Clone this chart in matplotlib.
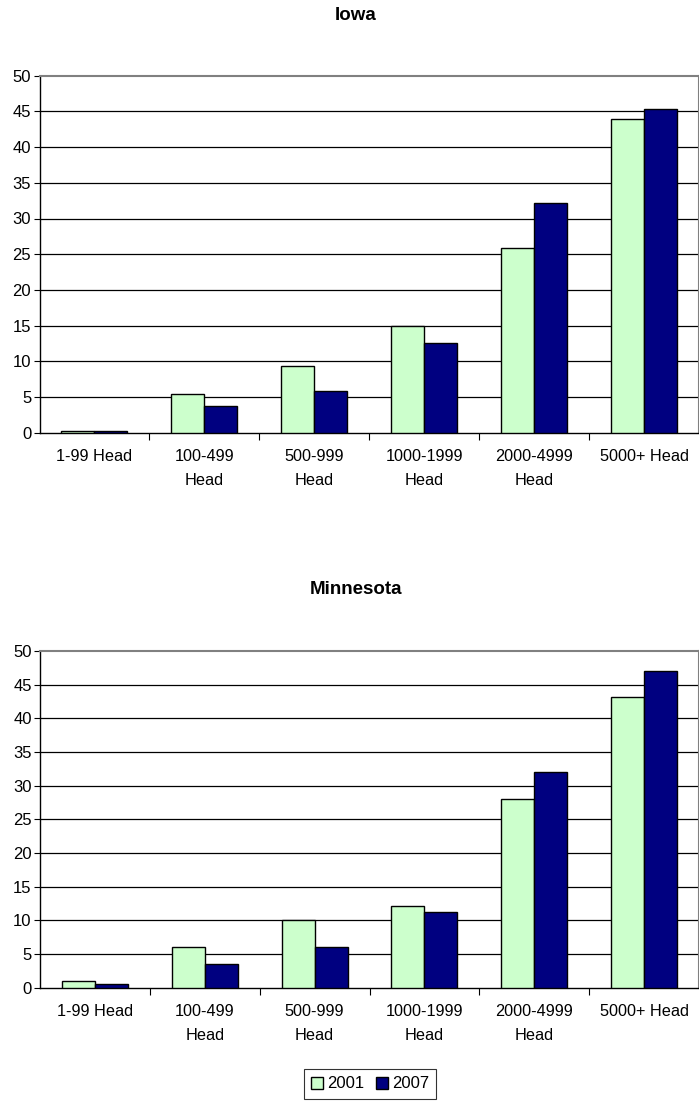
import matplotlib
matplotlib.use("Agg")
import matplotlib.pyplot as plt
import numpy as np

plt.rcParams['font.family'] = ['Liberation Sans', 'DejaVu Sans']

categories = ["1-99 Head", "100-499\nHead", "500-999\nHead", "1000-1999\nHead",
              "2000-4999\nHead", "5000+ Head"]
series_names = ["2001", "2007"]
iowa_2001 = [0.2, 5.4, 9.3, 14.9, 25.9, 43.9]
iowa_2007 = [0.2, 3.7, 5.8, 12.6, 32.2, 45.4]
mn_2001 = [1.0, 6.0, 10.0, 12.1, 28.0, 43.1]
mn_2007 = [0.5, 3.5, 6.0, 11.2, 32.0, 47.0]
yticks = [0, 5, 10, 15, 20, 25, 30, 35, 40, 45, 50]
colors = ["#CCFFCC", "#000080"]

W, H = 699, 1101
fig = plt.figure(figsize=(W / 100, H / 100), dpi=100)


def draw(rect, title, s1, s2, title_y):
    ax = fig.add_axes(rect)
    n = len(categories)
    x = np.arange(n)
    bw = 0.3
    ax.bar(x + 0.2, s1, width=bw, align='edge', color=colors[0],
           edgecolor='black', linewidth=1.0, label=series_names[0], zorder=3)
    ax.bar(x + 0.5, s2, width=bw, align='edge', color=colors[1],
           edgecolor='black', linewidth=1.0, label=series_names[1], zorder=3)
    ax.set_xlim(0, n)
    ax.set_ylim(0, 50)
    ax.set_yticks(yticks)
    ax.tick_params(axis='y', direction='out', length=4, width=0.8,
                   labelsize=12, pad=2)
    for v in yticks[1:-1]:
        ax.axhline(v, color='black', linewidth=0.9, zorder=1)
    ax.set_xticks(x + 0.5)
    ax.set_xticklabels(categories, fontsize=11.7, linespacing=1.75)
    ax.tick_params(axis='x', which='major', length=0, pad=12)
    ax.set_xticks(np.arange(1, n), minor=True)
    ax.tick_params(axis='x', which='minor', direction='out', length=5,
                   width=0.8)
    for side in ['left', 'bottom']:
        ax.spines[side].set_color('black')
        ax.spines[side].set_linewidth(1.0)
    ax.spines['top'].set_color('#808080')
    ax.spines['top'].set_linewidth(1.5)
    ax.spines['right'].set_color('#808080')
    ax.spines['right'].set_linewidth(1.5)
    fig.text(356 / W, 1 - title_y / H, title, ha='center', va='center',
             fontsize=13.5, fontweight='bold')
    return ax


ax1 = draw([39.5 / W, 1 - 432.7 / H, (W - 39.5) / W, (432.7 - 75.7) / H],
           "Iowa", iowa_2001, iowa_2007, 15)
ax2 = draw([40 / W, 1 - 987.7 / H, (W - 40) / W, (987.7 - 651) / H],
           "Minnesota", mn_2001, mn_2007, 590)

handles, labels = ax2.get_legend_handles_labels()
leg = fig.legend(handles, labels, loc='upper center',
                 bbox_to_anchor=(370 / W, 1 - 1069 / H), ncol=2,
                 fontsize=12, frameon=True, fancybox=False,
                 handlelength=0.7, handleheight=0.7, handletextpad=0.25,
                 columnspacing=0.7, borderpad=0.45, borderaxespad=0)
leg.get_frame().set_edgecolor('black')
leg.get_frame().set_linewidth(0.8)

fig.savefig("out.png", dpi=100)
